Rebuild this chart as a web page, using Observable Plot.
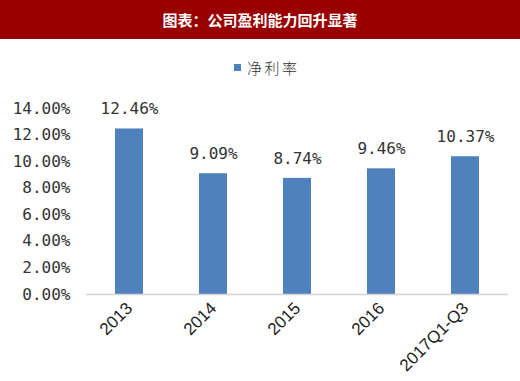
<!DOCTYPE html>
<html>
<head>
<meta charset="utf-8">
<script src="https://cdn.jsdelivr.net/npm/d3@7"></script>
<script src="https://cdn.jsdelivr.net/npm/@observablehq/plot@0.6"></script>
<style>
  html, body { margin: 0; padding: 0; background: #fff; width: 520px; height: 381px; overflow: hidden; }
  #wrap { position: relative; width: 520px; height: 381px; }
  #title { height: 39px; background: #990000; color: #fff; font-family: "Noto Sans CJK SC", sans-serif; font-weight: bold; font-size: 15px; line-height: 39px; text-align: center; }
  #legend { position: absolute; left: 234px; top: 56px; height: 22px; display: flex; align-items: center; font-family: "Noto Sans CJK SC", sans-serif; font-weight: 300; font-size: 15px; letter-spacing: 2.5px; color: #333; }
  #legend .sw { width: 7px; height: 7px; background: #4f81bd; margin-right: 6px; }
</style>
</head>
<body>
<div id="wrap">
  <div id="title">图表：公司盈利能力回升显著</div>
  <div id="legend"><span class="sw"></span><span>净利率</span></div>
  <div id="chart"></div>
</div>
<script>
const categories = ["2013", "2014", "2015", "2016", "2017Q1-Q3"];
const values = [12.46, 9.09, 8.74, 9.46, 10.37];
const yTicks = [0, 2, 4, 6, 8, 10, 12, 14];
const seriesName = "净利率";

const data = categories.map((c, i) => ({ cat: c, v: values[i] }));
const fmt = v => v.toFixed(2) + "%";

const chart = Plot.plot({
  width: 520,
  height: 342,
  marginTop: 69,
  marginBottom: 87,
  marginLeft: 86,
  marginRight: 12,
  style: { background: "#fff", overflow: "visible" },
  x: { domain: categories, paddingInner: 0.67, paddingOuter: 0.335, label: null },
  y: { domain: [0, 14], label: null },
  marks: [
    Plot.axisY({ ticks: yTicks, tickFormat: fmt, tickSize: 0, tickPadding: 16, fontSize: 16, fontFamily: "DejaVu Sans Mono", fill: "#333", label: null }),
    Plot.axisX({ tickSize: 0, tickPadding: 11, tickRotate: -45, fontSize: 17, fontFamily: "Liberation Sans", fill: "#222", label: null }),
    Plot.barY(data, { x: "cat", y: "v", fill: "#4f81bd" }),
    Plot.ruleY([0], { stroke: "#d4d4d4", strokeWidth: 1.5 }),
    Plot.text(data, { x: "cat", y: "v", text: d => fmt(d.v), dy: -20, fontSize: 16, fontFamily: "DejaVu Sans Mono", fill: "#333" })
  ]
});
document.getElementById("chart").appendChild(chart);
</script>
</body>
</html>
